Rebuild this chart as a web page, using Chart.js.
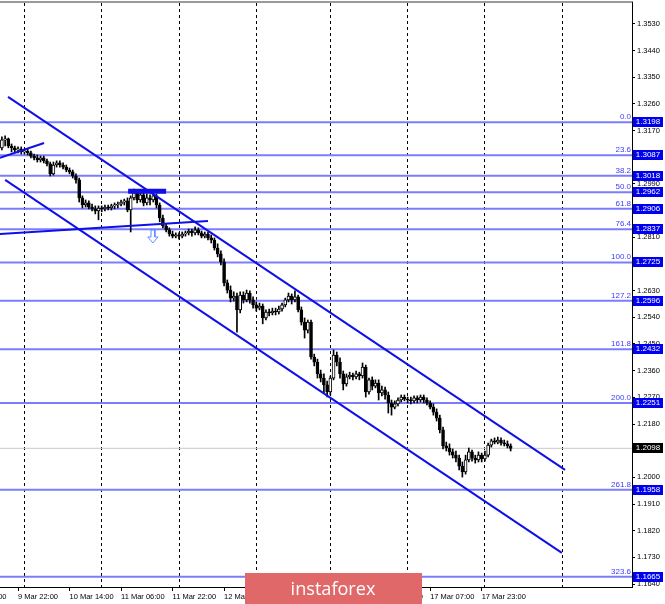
<!DOCTYPE html>
<html>
<head>
<meta charset="utf-8">
<script src="https://cdn.jsdelivr.net/npm/chart.js@4.4.1/dist/chart.umd.min.js"></script>
<style>
  html, body { margin: 0; padding: 0; background: #ffffff; }
</style>
</head>
<body>
<canvas id="myChart" width="665" height="604"></canvas>
<script>
// GBP/USD H1 candles, first candle index (9 Mar 22:00 = 0)
var firstBar = -5;

var opens = [
  1.3112, 1.3139, 1.3142, 1.3118, 1.3112,
  1.3105, 1.3108, 1.3098, 1.3101, 1.3095,
  1.3084, 1.3078, 1.3071, 1.3078, 1.3068,
  1.3058, 1.3024, 1.3054, 1.3061, 1.3054,
  1.3047, 1.3037, 1.3031, 1.3017, 1.3004,
  1.2943, 1.2919, 1.2926, 1.2912, 1.2906,
  1.2899, 1.2909, 1.2906, 1.2912, 1.2909,
  1.2916, 1.2919, 1.2922, 1.2929, 1.2933,
  1.2902, 1.2943, 1.2960, 1.2936, 1.2953,
  1.2926, 1.2943, 1.2936, 1.2950, 1.2919,
  1.2875, 1.2848, 1.2835, 1.2821, 1.2814,
  1.2818, 1.2814, 1.2821, 1.2825, 1.2831,
  1.2825, 1.2835, 1.2825, 1.2814, 1.2821,
  1.2808, 1.2801, 1.2774, 1.2754, 1.2727,
  1.2656, 1.2632, 1.2605, 1.2612, 1.2565,
  1.2615, 1.2599, 1.2622, 1.2599, 1.2582,
  1.2571, 1.2578, 1.2538, 1.2558, 1.2555,
  1.2561, 1.2558, 1.2568, 1.2582, 1.2599,
  1.2612, 1.2599, 1.2609, 1.2565, 1.2524,
  1.2497, 1.2524, 1.2406, 1.2389, 1.2349,
  1.2335, 1.2312, 1.2288, 1.2335, 1.2413,
  1.2389, 1.2349, 1.2315, 1.2339, 1.2345,
  1.2339, 1.2349, 1.2342, 1.2372, 1.2288,
  1.2329, 1.2308, 1.2318, 1.2285, 1.2295,
  1.2278, 1.2251, 1.2237, 1.2248, 1.2261,
  1.2271, 1.2264, 1.2261, 1.2258, 1.2268,
  1.2261, 1.2271, 1.2261, 1.2251, 1.2237,
  1.2220, 1.2200, 1.2160, 1.2106, 1.2099,
  1.2086, 1.2075, 1.2065, 1.2038, 1.2018,
  1.2059, 1.2086, 1.2065, 1.2059, 1.2075,
  1.2062, 1.2075, 1.2109, 1.2123, 1.2119,
  1.2126, 1.2116, 1.2113, 1.2106
];

var highs = [
  1.3149, 1.3152, 1.3145, 1.3125, 1.3118,
  1.3115, 1.3115, 1.3108, 1.3108, 1.3101,
  1.3091, 1.3088, 1.3084, 1.3084, 1.3074,
  1.3064, 1.3064, 1.3068, 1.3068, 1.3061,
  1.3054, 1.3044, 1.3037, 1.3024, 1.3010,
  1.2950, 1.2936, 1.2933, 1.2922, 1.2916,
  1.2916, 1.2916, 1.2919, 1.2919, 1.2922,
  1.2926, 1.2929, 1.2936, 1.2939, 1.2943,
  1.2950, 1.2973, 1.2970, 1.2966, 1.2960,
  1.2956, 1.2953, 1.2963, 1.2956, 1.2926,
  1.2885, 1.2855, 1.2842, 1.2831, 1.2825,
  1.2825, 1.2828, 1.2831, 1.2838, 1.2838,
  1.2845, 1.2842, 1.2831, 1.2828, 1.2828,
  1.2818, 1.2808, 1.2788, 1.2764, 1.2737,
  1.2666, 1.2646, 1.2626, 1.2622, 1.2626,
  1.2626, 1.2632, 1.2629, 1.2609, 1.2592,
  1.2588, 1.2585, 1.2565, 1.2568, 1.2571,
  1.2571, 1.2578, 1.2588, 1.2605, 1.2622,
  1.2619, 1.2629, 1.2615, 1.2575, 1.2538,
  1.2531, 1.2531, 1.2416, 1.2399, 1.2362,
  1.2349, 1.2325, 1.2342, 1.2430, 1.2423,
  1.2403, 1.2359, 1.2349, 1.2355, 1.2352,
  1.2359, 1.2355, 1.2386, 1.2379, 1.2335,
  1.2339, 1.2329, 1.2329, 1.2308, 1.2305,
  1.2288, 1.2261, 1.2258, 1.2268, 1.2278,
  1.2278, 1.2271, 1.2271, 1.2275, 1.2275,
  1.2278, 1.2278, 1.2268, 1.2258, 1.2248,
  1.2231, 1.2210, 1.2170, 1.2119, 1.2113,
  1.2096, 1.2089, 1.2075, 1.2052, 1.2075,
  1.2099, 1.2092, 1.2075, 1.2086, 1.2082,
  1.2089, 1.2116, 1.2129, 1.2133, 1.2136,
  1.2133, 1.2126, 1.2123, 1.2113
];

var lows = [
  1.3105, 1.3118, 1.3112, 1.3098, 1.3095,
  1.3095, 1.3091, 1.3091, 1.3088, 1.3078,
  1.3071, 1.3064, 1.3064, 1.3061, 1.3051,
  1.3017, 1.3020, 1.3047, 1.3047, 1.3041,
  1.3031, 1.3024, 1.3010, 1.2993, 1.2929,
  1.2909, 1.2912, 1.2906, 1.2899, 1.2889,
  1.2869, 1.2896, 1.2899, 1.2902, 1.2902,
  1.2906, 1.2909, 1.2916, 1.2919, 1.2896,
  1.2828, 1.2936, 1.2926, 1.2929, 1.2916,
  1.2919, 1.2919, 1.2929, 1.2909, 1.2862,
  1.2842, 1.2828, 1.2814, 1.2808, 1.2808,
  1.2804, 1.2808, 1.2814, 1.2818, 1.2814,
  1.2818, 1.2818, 1.2808, 1.2808, 1.2801,
  1.2791, 1.2767, 1.2744, 1.2717, 1.2646,
  1.2622, 1.2592, 1.2595, 1.2490, 1.2555,
  1.2588, 1.2592, 1.2588, 1.2571, 1.2561,
  1.2565, 1.2518, 1.2531, 1.2545, 1.2548,
  1.2548, 1.2551, 1.2561, 1.2575, 1.2592,
  1.2585, 1.2592, 1.2558, 1.2514, 1.2470,
  1.2487, 1.2399, 1.2376, 1.2335, 1.2322,
  1.2285, 1.2271, 1.2278, 1.2329, 1.2376,
  1.2335, 1.2295, 1.2308, 1.2332, 1.2329,
  1.2332, 1.2329, 1.2335, 1.2271, 1.2281,
  1.2295, 1.2302, 1.2261, 1.2275, 1.2264,
  1.2217, 1.2210, 1.2231, 1.2241, 1.2254,
  1.2258, 1.2251, 1.2248, 1.2251, 1.2251,
  1.2254, 1.2251, 1.2244, 1.2231, 1.2210,
  1.2190, 1.2150, 1.2096, 1.2089, 1.2075,
  1.2065, 1.2052, 1.2025, 1.2001, 1.2011,
  1.2052, 1.2055, 1.2048, 1.2052, 1.2052,
  1.2055, 1.2069, 1.2102, 1.2113, 1.2113,
  1.2109, 1.2106, 1.2099, 1.2089
];

var closes = [
  1.3139, 1.3142, 1.3118, 1.3112, 1.3105,
  1.3108, 1.3098, 1.3101, 1.3095, 1.3084,
  1.3078, 1.3071, 1.3078, 1.3068, 1.3058,
  1.3024, 1.3054, 1.3061, 1.3054, 1.3047,
  1.3037, 1.3031, 1.3017, 1.3004, 1.2943,
  1.2919, 1.2926, 1.2912, 1.2906, 1.2899,
  1.2909, 1.2906, 1.2912, 1.2909, 1.2916,
  1.2919, 1.2922, 1.2929, 1.2933, 1.2902,
  1.2943, 1.2960, 1.2936, 1.2953, 1.2926,
  1.2943, 1.2936, 1.2950, 1.2919, 1.2875,
  1.2848, 1.2835, 1.2821, 1.2814, 1.2818,
  1.2814, 1.2821, 1.2825, 1.2831, 1.2825,
  1.2835, 1.2825, 1.2814, 1.2821, 1.2808,
  1.2801, 1.2774, 1.2754, 1.2727, 1.2656,
  1.2632, 1.2605, 1.2612, 1.2565, 1.2615,
  1.2599, 1.2622, 1.2599, 1.2582, 1.2571,
  1.2578, 1.2538, 1.2558, 1.2555, 1.2561,
  1.2558, 1.2568, 1.2582, 1.2599, 1.2612,
  1.2599, 1.2609, 1.2565, 1.2524, 1.2497,
  1.2524, 1.2406, 1.2389, 1.2349, 1.2335,
  1.2312, 1.2288, 1.2335, 1.2413, 1.2389,
  1.2349, 1.2315, 1.2339, 1.2345, 1.2339,
  1.2349, 1.2342, 1.2372, 1.2288, 1.2329,
  1.2308, 1.2318, 1.2285, 1.2295, 1.2278,
  1.2251, 1.2237, 1.2248, 1.2261, 1.2271,
  1.2264, 1.2261, 1.2258, 1.2268, 1.2261,
  1.2271, 1.2261, 1.2251, 1.2237, 1.2220,
  1.2200, 1.2160, 1.2106, 1.2099, 1.2086,
  1.2075, 1.2065, 1.2038, 1.2018, 1.2059,
  1.2086, 1.2065, 1.2059, 1.2075, 1.2062,
  1.2075, 1.2109, 1.2123, 1.2119, 1.2126,
  1.2116, 1.2113, 1.2106, 1.2098
];

// time axis (in bar index)
var timeTicks = [-16, 0, 16, 32, 48, 64, 80, 96, 112, 128, 144];
var timeLabels = ['9 Mar 06:00', '9 Mar 22:00', '10 Mar 14:00', '11 Mar 06:00', '11 Mar 22:00',
  '12 Mar 14:00', '13 Mar 06:00', '13 Mar 22:00', '16 Mar 15:00', '17 Mar 07:00', '17 Mar 23:00'];
var dayStarts = [2, 26, 50, 74, 97, 121, 145, 169];

// price axis
var priceTicks = [1.1640, 1.1730, 1.1820, 1.1910, 1.2000, 1.2090, 1.2180, 1.2270, 1.2360, 1.2450,
  1.2540, 1.2630, 1.2720, 1.2810, 1.2900, 1.2990, 1.3080, 1.3170, 1.3260, 1.3350, 1.3440, 1.3530];

// fibonacci grid
var fibLevels = [1.3198, 1.3087, 1.3018, 1.2962, 1.2906, 1.2837, 1.2725, 1.2596, 1.2432, 1.2251, 1.1958, 1.1665];
var fibNames = ['0.0', '23.6', '38.2', '50.0', '61.8', '76.4', '100.0', '127.2', '161.8', '200.0', '261.8', '323.6'];
var lastPrice = 1.2098;

// drawn objects: [bar index, price]
var upperChannel = [[-3.1, 1.3284], [169.9, 1.2025]];
var lowerChannel = [[-4.0, 1.3004], [168.9, 1.1745]];
var shortTrend = [[-5.6, 1.3078], [8.1, 1.3128]];
var flatTrend = [[-5.6, 1.2821], [59.0, 1.2865]];
var resistance = [[34.2, 1.2965], [46.0, 1.2965]];
var arrowX = [41.3, 42.5, 42.5, 43.5, 41.9, 40.3, 41.3, 41.3];
var arrowY = [1.2835, 1.2835, 1.2811, 1.2811, 1.2791, 1.2811, 1.2811, 1.2835];

var xMin = -5.59, xMax = 190.68;
var yMin = 1.1630, yMax = 1.3604;
var fontFamily = '"Liberation Sans", Arial, sans-serif';

function toPoints(pairs) {
    return pairs.map(function (p) { return { x: p[0], y: p[1] }; });
}

function lineSet(points, color, width, order) {
    return {
        type: 'line',
        data: points,
        borderColor: color,
        borderWidth: width,
        pointRadius: 0,
        fill: false,
        tension: 0,
        order: order
    };
}

var candleX = opens.map(function (v, k) { return firstBar + k; });
var wickData = candleX.map(function (x, k) { return { x: x, y: [lows[k], highs[k]] }; });
var bodyData = candleX.map(function (x, k) { return { x: x, y: [opens[k], closes[k]] }; });
var bodyColors = opens.map(function (o, k) { return closes[k] >= o ? '#ffffff' : '#000000'; });

var datasets = [];

fibLevels.forEach(function (lv) {
    datasets.push(lineSet([{ x: xMin, y: lv }, { x: xMax, y: lv }], '#7c7cff', 2, 10));
});
datasets.push(lineSet([{ x: xMin, y: lastPrice }, { x: xMax, y: lastPrice }], '#c8c8c8', 1, 9));

datasets.push({
    type: 'bar',
    data: wickData,
    backgroundColor: '#000000',
    barThickness: 1,
    grouped: false,
    order: 4
});
datasets.push({
    type: 'bar',
    data: bodyData,
    backgroundColor: bodyColors,
    borderColor: '#000000',
    borderWidth: 1,
    borderSkipped: false,
    barThickness: 3,
    minBarLength: 1,
    grouped: false,
    order: 3
});

datasets.push(lineSet(toPoints(upperChannel), '#1010e6', 2, 1));
datasets.push(lineSet(toPoints(lowerChannel), '#1010e6', 2, 1));
datasets.push(lineSet(toPoints(shortTrend), '#1010e6', 2, 1));
datasets.push(lineSet(toPoints(flatTrend), '#1010e6', 2, 1));
datasets.push(lineSet(toPoints(resistance), '#1010e6', 5, 1));
datasets.push(lineSet(arrowX.map(function (x, k) { return { x: x, y: arrowY[k] }; }), '#5b8dff', 1, 1));

// labels on the right, fib names and the logo
var overlayPlugin = {
    id: 'overlay',
    afterDraw: function (chart) {
        var ctx = chart.ctx;
        var y = chart.scales.y;
        var area = chart.chartArea;
        ctx.save();
        ctx.font = '8px ' + fontFamily;
        fibLevels.forEach(function (lv, k) {
            var py = Math.round(y.getPixelForValue(lv));
            ctx.fillStyle = '#3c3cff';
            ctx.textAlign = 'right';
            ctx.textBaseline = 'bottom';
            ctx.fillText(fibNames[k], area.right - 1, py - 1);
            ctx.fillStyle = '#0000f0';
            ctx.fillRect(area.right + 1, py - 5, 30, 10);
            ctx.fillStyle = '#ffffff';
            ctx.textAlign = 'center';
            ctx.textBaseline = 'middle';
            ctx.fillText(lv.toFixed(4), area.right + 16, py);
        });
        var lp = Math.round(y.getPixelForValue(lastPrice));
        ctx.fillStyle = '#000000';
        ctx.fillRect(area.right + 1, lp - 5, 30, 10);
        ctx.fillStyle = '#ffffff';
        ctx.fillText(lastPrice.toFixed(4), area.right + 16, lp);

        // watermark logo
        ctx.fillStyle = '#e06868';
        ctx.fillRect(245, 573, 177, 31);
        ctx.font = '20px "Open Sans", sans-serif';
        var w = ctx.measureText('instaforex').width;
        var size = 20 * 85 / w;
        ctx.font = size.toFixed(1) + 'px "Open Sans", sans-serif';
        ctx.fillStyle = '#ffffff';
        ctx.textAlign = 'center';
        ctx.textBaseline = 'alphabetic';
        ctx.fillText('instaforex', 333, 595);
        ctx.restore();
    }
};

var ctx = document.getElementById('myChart').getContext('2d');
var myChart = new Chart(ctx, {
    type: 'bar',
    data: { datasets: datasets },
    plugins: [overlayPlugin],
    options: {
        responsive: false,
        animation: false,
        events: [],
        layout: { padding: { top: 2, left: 0, right: 0, bottom: 0 } },
        plugins: {
            legend: { display: false },
            tooltip: { enabled: false }
        },
        scales: {
            x: {
                type: 'linear',
                position: 'bottom',
                min: xMin,
                max: xMax,
                offset: false,
                afterBuildTicks: function (s) {
                    s.ticks = timeTicks.map(function (v) { return { value: v }; });
                },
                afterFit: function (s) {
                    s.height = 17;
                    s.paddingLeft = 0;
                    s.paddingRight = 0;
                },
                ticks: {
                    autoSkip: false,
                    maxRotation: 0,
                    align: 'start',
                    padding: 1,
                    color: '#000000',
                    font: { family: fontFamily, size: 7.5 },
                    callback: function (v) {
                        var k = timeTicks.indexOf(v);
                        return k < 0 ? '' : timeLabels[k];
                    }
                },
                grid: { offset: false, drawOnChartArea: false, tickLength: 4, color: '#000000' },
                border: { color: '#000000', width: 1 }
            },
            days: {
                type: 'linear',
                position: 'top',
                min: xMin,
                max: xMax,
                offset: false,
                afterBuildTicks: function (s) {
                    s.ticks = dayStarts.map(function (v) { return { value: v }; });
                },
                afterFit: function (s) {
                    s.height = 0;
                    s.paddingLeft = 0;
                    s.paddingRight = 0;
                },
                ticks: { display: false },
                grid: { offset: false, drawTicks: false, tickLength: 0, color: '#000000', lineWidth: 1 },
                border: { color: '#9a9a9a', width: 2, dash: [3, 3] }
            },
            y: {
                type: 'linear',
                position: 'right',
                min: yMin,
                max: yMax,
                afterBuildTicks: function (s) {
                    s.ticks = priceTicks.map(function (v) { return { value: v }; });
                },
                afterFit: function (s) {
                    s.width = 33;
                    s.paddingTop = 0;
                    s.paddingBottom = 0;
                },
                ticks: {
                    padding: 2,
                    color: '#000000',
                    font: { family: fontFamily, size: 7.5 },
                    callback: function (v) { return Number(v).toFixed(4); }
                },
                grid: { drawOnChartArea: false, tickLength: 3, color: '#000000' },
                border: { color: '#000000', width: 1 }
            }
        }
    }
});
</script>
</body>
</html>
